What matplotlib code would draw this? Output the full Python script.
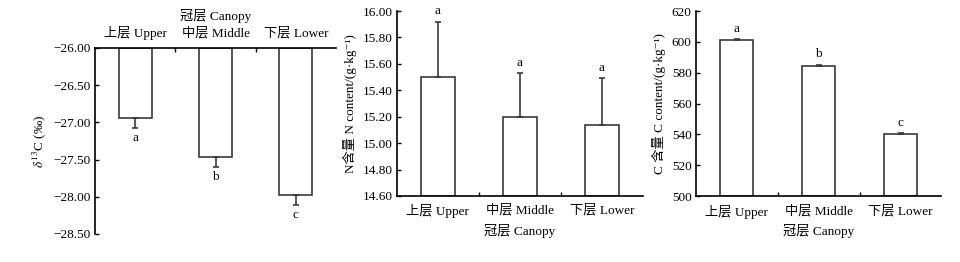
import matplotlib.pyplot as plt
import numpy as np

plt.rcParams['font.family'] = ['Liberation Serif', 'Noto Sans CJK SC', 'DejaVu Serif']
plt.rcParams['mathtext.fontset'] = 'stix'
plt.rcParams['font.size'] = 9.5

layers = ['上层 Upper', '中层 Middle', '下层 Lower']
xlab = '冠层 Canopy'

# delta 13C (per mil)
d13c = [-26.94, -27.46, -27.97]
d13c_err = [0.13, 0.14, 0.14]
d13c_sig = ['a', 'b', 'c']

# N content g/kg
n_val = [15.50, 15.20, 15.135]
n_err = [0.42, 0.33, 0.355]
n_sig = ['a', 'a', 'a']

# C content g/kg
c_val = [601.0, 584.6, 540.4]
c_err = [0.6, 0.6, 0.5]
c_sig = ['a', 'b', 'c']

fig = plt.figure(figsize=(9.6, 2.62), dpi=100)
ax1 = fig.add_axes([0.099, 0.107, 0.251, 0.710])
ax2 = fig.add_axes([0.4135, 0.252, 0.256, 0.706])
ax3 = fig.add_axes([0.7247, 0.251, 0.256, 0.707])

x = np.arange(3)
bw = 0.41
ec = '#3a3a3a'


def style(ax, top=False):
    for s in ['left', 'right', 'top', 'bottom']:
        ax.spines[s].set_visible(False)
    ax.spines['left'].set_visible(True)
    ax.spines['top' if top else 'bottom'].set_visible(True)
    for s in ax.spines.values():
        s.set_linewidth(1.2)
    ax.set_xlim(-0.5, 2.5)
    ax.set_xticks(x)
    ax.set_xticklabels(layers)
    ax.set_xticks([0.5, 1.5], minor=True)
    ax.tick_params(axis='x', which='major', length=0, pad=6)
    ax.tick_params(axis='x', which='minor', direction='in', length=3, width=1)
    ax.tick_params(axis='y', direction='in', length=3, width=1, pad=3)
    if top:
        ax.xaxis.set_ticks_position('top')
        ax.xaxis.set_label_position('top')
        ax.tick_params(axis='x', which='both', top=True, bottom=False,
                       labeltop=True, labelbottom=False)
    ax.set_xlabel(xlab, labelpad=4)


# panel 1: d13C, bars hanging from top
ax1.bar(x, np.array(d13c) + 26.0, bottom=-26.0, width=bw, color='white',
        edgecolor=ec, linewidth=1.2)
ax1.errorbar(x, d13c, yerr=[d13c_err, [0, 0, 0]], fmt='none', ecolor=ec,
             elinewidth=1.2, capsize=2.5, capthick=1.2)
for xi, v, e, s in zip(x, d13c, d13c_err, d13c_sig):
    ax1.annotate(s, (xi, v - e), xytext=(0, -7.5), textcoords='offset points',
                 ha='center', va='center')
ax1.set_ylim(-28.5, -26.0)
ax1.set_yticks(np.arange(-28.5, -25.99, 0.5))
ax1.yaxis.set_major_formatter(plt.FuncFormatter(lambda v, p: f'{v:.2f}'.replace('-', '\u2212')))
style(ax1, top=True)
ax1.set_ylabel(r'$\delta^{13}$C (‰)', labelpad=4)

# panel 2: N content
ax2.bar(x, np.array(n_val) - 14.6, bottom=14.6, width=bw, color='white',
        edgecolor=ec, linewidth=1.2)
ax2.errorbar(x, n_val, yerr=[[0, 0, 0], n_err], fmt='none', ecolor=ec,
             elinewidth=1.2, capsize=2.5, capthick=1.2)
for xi, v, e, s in zip(x, n_val, n_err, n_sig):
    ax2.annotate(s, (xi, v + e), xytext=(0, 7.5), textcoords='offset points',
                 ha='center', va='center')
ax2.set_ylim(14.6, 16.0)
ax2.set_yticks(np.arange(14.6, 16.01, 0.2))
ax2.yaxis.set_major_formatter(plt.FuncFormatter(lambda v, p: f'{v:.2f}'))
style(ax2)
ax2.set_ylabel('N含量 N content/(g·kg⁻¹)', labelpad=4)

# panel 3: C content
ax3.bar(x, np.array(c_val) - 500, bottom=500, width=bw, color='white',
        edgecolor=ec, linewidth=1.2)
ax3.errorbar(x, c_val, yerr=[[0, 0, 0], c_err], fmt='none', ecolor=ec,
             elinewidth=1.2, capsize=2.5, capthick=1.2)
for xi, v, e, s in zip(x, c_val, c_err, c_sig):
    ax3.annotate(s, (xi, v + e), xytext=(0, 7.5), textcoords='offset points',
                 ha='center', va='center')
ax3.set_ylim(500, 620)
ax3.set_yticks(np.arange(500, 621, 20))
style(ax3)
ax3.set_ylabel('C 含量 C content/(g·kg⁻¹)', labelpad=4)

fig.savefig('out.png', dpi=100)
